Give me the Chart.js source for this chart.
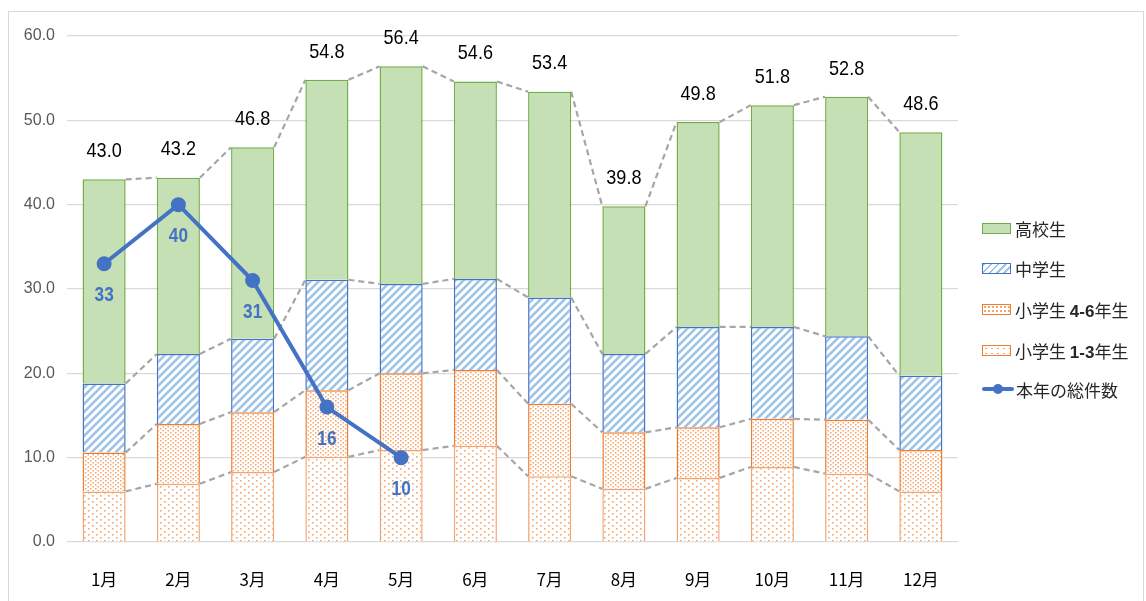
<!DOCTYPE html>
<html><head><meta charset="utf-8">
<script src="https://cdn.jsdelivr.net/npm/chart.js@4.4.1/dist/chart.umd.min.js"></script>
<style>
html,body{margin:0;padding:0;background:#fff;}
#wrap{position:absolute;left:0;top:0;width:1146px;height:601px;}
#frame{position:absolute;left:8px;top:11px;width:1136px;height:592px;border:1px solid #d9d9d9;box-sizing:border-box;}
#legend{position:absolute;left:982px;top:0;font-family:"Noto Sans CJK JP",sans-serif;font-size:17px;color:#262626;}
.li{position:absolute;left:0;height:20px;white-space:nowrap;display:flex;align-items:center;}
.sw{width:29px;height:11px;margin-right:4px;box-sizing:border-box;}
.num{font-family:"Liberation Sans",sans-serif;}
</style></head>
<body>
<div id="wrap">
<div id="frame"></div>
<canvas id="c" width="1146" height="601"></canvas>
<div id="legend"></div>
</div>
<script>
const months = ['1月','2月','3月','4月','5月','6月','7月','8月','9月','10月','11月','12月'];
const grade13 = [6.0,6.9,8.3,10.1,10.9,11.4,7.8,6.3,7.6,8.9,8.1,6.0];
const grade46 = [4.6,7.1,7.1,7.9,9.1,9.0,8.6,6.7,6.0,5.7,6.4,4.9];
const middle  = [8.2,8.3,8.7,13.1,10.6,10.8,12.6,9.3,11.9,10.9,9.9,8.8];
const high    = [24.2,20.9,22.7,23.7,25.8,23.4,24.4,17.5,24.3,26.3,28.4,28.9];
const thisYear = [33,40,31,16,10,null,null,null,null,null,null,null];
const yTicks = [0,10,20,30,40,50,60];
const seriesNames = ['本年の総件数','小学生 1-3年生','小学生 4-6年生','中学生','高校生'];

const ctx = document.getElementById('c').getContext('2d');
function mkPattern(draw, w, h){
  const c = document.createElement('canvas'); c.width=w; c.height=h;
  const g = c.getContext('2d'); g.fillStyle='#fff'; g.fillRect(0,0,w,h); draw(g);
  return ctx.createPattern(c,'repeat');
}
const stripePat = mkPattern(g=>{
  g.strokeStyle='#9dc3e6'; g.lineWidth=2.6; g.lineCap='square';
  g.beginPath(); g.moveTo(-2,10); g.lineTo(10,-2); g.moveTo(-2,2); g.lineTo(2,-2); g.moveTo(6,10); g.lineTo(10,6); g.stroke();
},8,8);
const dotDense = mkPattern(g=>{
  g.fillStyle='#f5a66e';
  g.fillRect(0,0,1.5,1.5); g.fillRect(2.5,2,1.5,1.5);
},5,4);
const dotSparse = mkPattern(g=>{
  g.fillStyle='#f5a66e';
  g.fillRect(0,0,1.6,1.6); g.fillRect(4,3,1.6,1.6);
},8,6);

const numFont = '"Liberation Sans",sans-serif';

function narrowText(c, txt, x, y, sx){
  c.save(); c.translate(x,y); c.scale(sx,1); c.fillText(txt,0,0); c.restore();
}

const helper = {
  id:'helper',
  beforeDatasetsDraw(chart){
    const c = chart.ctx;
    c.save();
    c.strokeStyle='#a6a6a6'; c.lineWidth=2.2; c.setLineDash([6,4]);
    for(let d=1; d<=4; d++){
      const els = chart.getDatasetMeta(d).data;
      for(let i=0;i<els.length-1;i++){
        const a = els[i], b = els[i+1];
        c.beginPath();
        c.moveTo(a.x + a.width/2, a.y);
        c.lineTo(b.x - b.width/2, b.y);
        c.stroke();
      }
    }
    c.restore();
  },
  afterDatasetsDraw(chart){
    const c = chart.ctx;
    c.save();
    c.textAlign='center'; c.textBaseline='middle';
    const top = chart.getDatasetMeta(4).data;
    c.font = '21px '+numFont; c.fillStyle='#000';
    top.forEach((el,i)=>{
      const s = grade13[i]+grade46[i]+middle[i]+high[i];
      narrowText(c, s.toFixed(1), el.x, el.y-28, 0.86);
    });
    const pts = chart.getDatasetMeta(0).data;
    c.font = 'bold 21px '+numFont; c.fillStyle='#4472c4';
    pts.forEach((p,i)=>{
      if(thisYear[i]==null) return;
      narrowText(c, String(thisYear[i]), p.x, p.y+32, 0.82);
    });
    c.restore();
  }
};

new Chart(ctx,{
  type:'bar',
  data:{
    labels: months,
    datasets:[
      {type:'line', label:seriesNames[0], data:thisYear, borderColor:'#4472c4', backgroundColor:'#4472c4', borderWidth:4, pointRadius:5.5, pointBackgroundColor:'#4472c4', pointBorderColor:'#4472c4', spanGaps:false, order:-1, stack:'line'},
      {label:seriesNames[1], data:grade13, backgroundColor:dotSparse, borderColor:'#f4a470', borderWidth:1.5, stack:'s'},
      {label:seriesNames[2], data:grade46, backgroundColor:dotDense, borderColor:'#ed7d31', borderWidth:1.5, stack:'s'},
      {label:seriesNames[3], data:middle, backgroundColor:stripePat, borderColor:'#4472c4', borderWidth:1.5, stack:'s'},
      {label:seriesNames[4], data:high, backgroundColor:'#c5e0b4', borderColor:'#70ad47', borderWidth:1.5, stack:'s'}
    ]
  },
  options:{
    responsive:false, animation:false,
    datasets:{bar:{barPercentage:0.58, categoryPercentage:1.0}},
    layout:{padding:{left:0,right:188,top:36,bottom:0}},
    plugins:{legend:{display:false}, tooltip:{enabled:false}},
    scales:{
      x:{stacked:true, grid:{display:false}, border:{display:false},
         ticks:{color:'#000', font:{family:'"Noto Sans CJK JP",sans-serif', size:17}, padding:19, maxRotation:0},
         afterFit(s){ s.height = 59; }},
      y:{stacked:true, min:0, max:60,
         afterBuildTicks(s){ s.ticks = yTicks.map(v=>({value:v})); },
         grid:{color:'#d9d9d9', drawTicks:false, lineWidth:1.2}, border:{display:false},
         ticks:{color:'#595959', font:{family:numFont, size:16}, padding:12, callback:v=>Number(v).toFixed(1)},
         afterFit(s){ s.width = 67; }}
    }
  },
  plugins:[helper]
});

// HTML legend
const legendItems = [
  {name:seriesNames[4], y:228, css:'background:#c5e0b4;border:1.5px solid #70ad47;'},
  {name:seriesNames[3], y:268, css:'background:repeating-linear-gradient(135deg,#9dc3e6 0 2px,#fff 2px 5px);border:1.5px solid #4472c4;'},
  {name:seriesNames[2], y:309, css:'background-color:#fff;background-image:radial-gradient(circle,#f5a66e 0.9px,transparent 1.1px);background-size:4px 4px;border:1.5px solid #ed7d31;'},
  {name:seriesNames[1], y:350, css:'background-color:#fff;background-image:radial-gradient(circle,#f5a66e 0.9px,transparent 1.1px);background-size:6px 5px;border:1.5px solid #ed7d31;'},
  {name:seriesNames[0], y:389, line:true}
];
const lg = document.getElementById('legend');
legendItems.forEach(it=>{
  const d = document.createElement('div'); d.className='li'; d.style.top=(it.y-10)+'px';
  let sw;
  if(it.line){
    sw = '<div style="position:relative;width:32px;height:10px;margin-right:2px;"><div style="position:absolute;left:0;top:3px;width:32px;height:4px;background:#4472c4;border-radius:2px;"></div><div style="position:absolute;left:11px;top:0;width:10px;height:10px;border-radius:50%;background:#4472c4;"></div></div>';
  } else {
    sw = '<div class="sw" style="'+it.css+'"></div>';
  }
  const txt = it.name.replace(/([0-9\-]+)/g,'<span class="num" style="font-weight:bold">$1</span>');
  d.innerHTML = sw + '<span>'+txt+'</span>';
  lg.appendChild(d);
});
</script>
</body></html>
